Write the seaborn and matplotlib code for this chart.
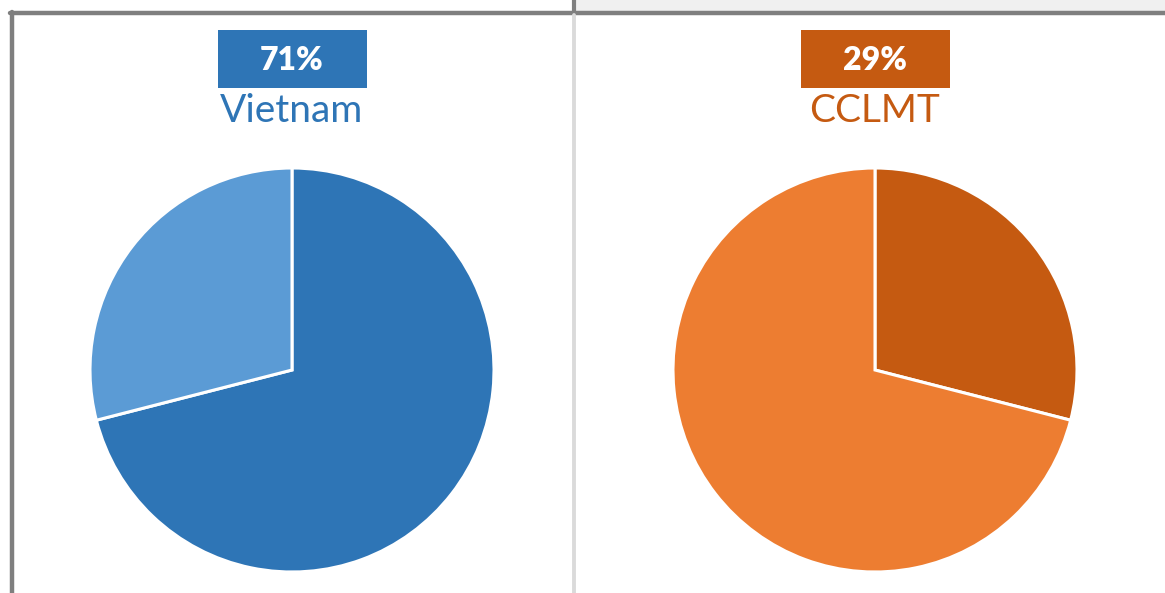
import matplotlib
matplotlib.use("Agg")
import matplotlib.pyplot as plt
import seaborn as sns
from matplotlib.patches import Rectangle
from matplotlib.lines import Line2D

# ------------------------------------------------------
# Data
# ------------------------------------------------------
titles = ["Vietnam", "CCLMT"]
shares = [[71, 29], [29, 71]]           # clockwise from 12 o'clock
headline = ["71%", "29%"]
pie_colors = [["#2E75B6", "#5B9BD5"], ["#C55A11", "#ED7D31"]]
title_colors = ["#2E75B6", "#C55A11"]

W, H = 1165, 593
sns.set_theme(style="white")
plt.rcParams["font.family"] = ["Lato", "DejaVu Sans"]

fig = plt.figure(figsize=(W / 100, H / 100), dpi=100)
fig.patch.set_facecolor("white")


def px(x, y):
    # pixel coords (top-left origin) -> figure fraction
    return x / W, 1 - y / H


# ------------------------------------------------------
# Sheet frame (screenshot borders)
# ------------------------------------------------------
fig.add_artist(Rectangle(px(575, 12), (W - 575) / W, 12 / H,
                         transform=fig.transFigure, color="#F0F0F0", lw=0))
fig.add_artist(Line2D([574 / W, 574 / W], [1 - 12 / H, 1.0],
                      transform=fig.transFigure, color="#7F7F7F", lw=3))
fig.add_artist(Line2D([10 / W, 1.0], [1 - 13 / H, 1 - 13 / H],
                      transform=fig.transFigure, color="#7F7F7F", lw=3.2))
fig.add_artist(Line2D([12 / W, 12 / W], [0, 1 - 11.5 / H],
                      transform=fig.transFigure, color="#7F7F7F", lw=3.2))
fig.add_artist(Line2D([574 / W, 574 / W], [0, 1 - 15 / H],
                      transform=fig.transFigure, color="#DADADA", lw=2.8))

# ------------------------------------------------------
# Pies
# ------------------------------------------------------
centers = [292, 875]
cy, r = 370, 202
for i in range(2):
    cx = centers[i]
    x0, y0 = px(cx - r, cy + r)
    ax = fig.add_axes([x0, y0, 2 * r / W, 2 * r / H])
    ax.pie(shares[i], colors=pie_colors[i], startangle=90, counterclock=False,
           radius=1, wedgeprops=dict(edgecolor="white", linewidth=2.2))
    ax.set_xlim(-1, 1)
    ax.set_ylim(-1, 1)
    ax.set_aspect("equal")
    ax.axis("off")

    # headline box + title
    bx, by = px(cx - 74.5, 88)
    fig.add_artist(Rectangle((bx, by), 149 / W, 58 / H, transform=fig.transFigure,
                             color=title_colors[i], lw=0))
    fig.text(*px(cx, 60), headline[i], color="white", fontsize=23,
             fontweight="heavy", ha="center", va="center")
    fig.text(*px(cx, 111), titles[i], color=title_colors[i], fontsize=28,
             ha="center", va="center")

fig.savefig("out.png", dpi=100)
